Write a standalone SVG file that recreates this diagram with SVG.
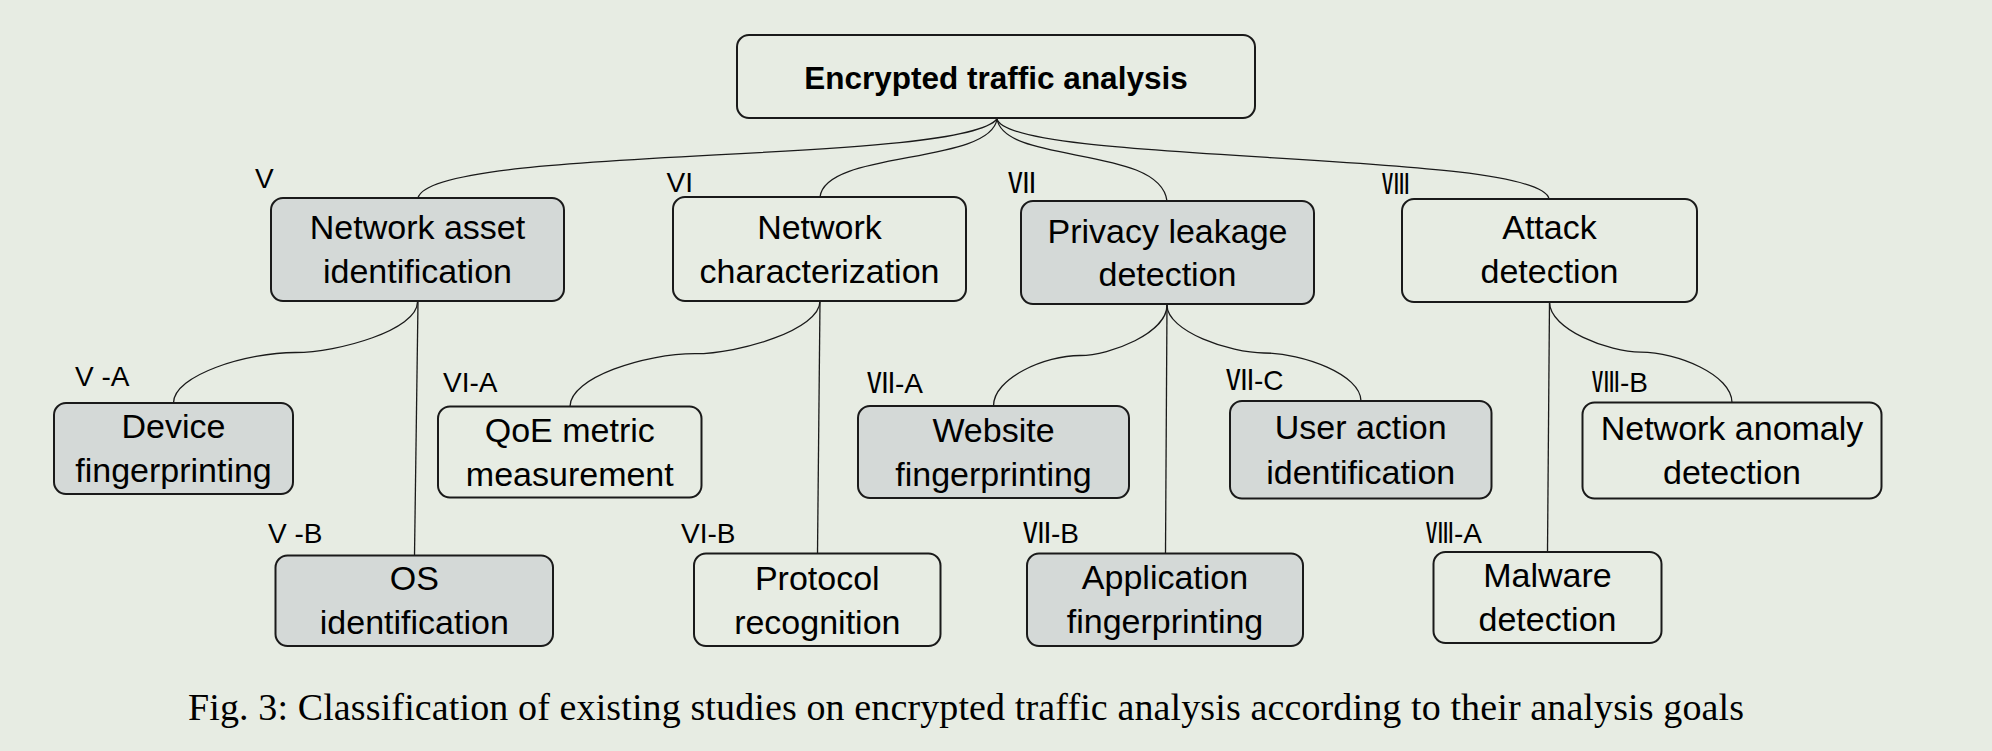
<svg xmlns="http://www.w3.org/2000/svg" width="1992" height="751" viewBox="0 0 1992 751">
<style>
.bg{fill:#E7ECE3}
.box{stroke:#1a1a1a;stroke-width:2}
.g{fill:#D4D9D7}
.w{fill:#E7ECE3}
.t{font-family:"Liberation Sans",Arial,sans-serif;font-size:34px;fill:#000;text-anchor:middle}
.tb{font-family:"Liberation Sans",Arial,sans-serif;font-size:31.5px;font-weight:bold;fill:#000;text-anchor:middle}
.lb{font-family:"Liberation Sans",Arial,sans-serif;font-size:28px;fill:#000}
.rn{font-family:"Noto Sans CJK SC","Noto Sans CJK JP",sans-serif}
.c{fill:none;stroke:#1a1a1a;stroke-width:1.3}
.cap{font-family:"Liberation Serif","Times New Roman",serif;font-size:38px;fill:#000}
</style>
<rect class="bg" x="0" y="0" width="1992" height="751"/>
<g id="connectors">
<path class="c" d="M997,119 C960,165 430,145 418,198"/>
<path class="c" d="M997,119 C990,165 825,150 820,197"/>
<path class="c" d="M997,119 C1005,165 1160,145 1167,201"/>
<path class="c" d="M997,119 C1010,165 1540,150 1549,199"/>
<path class="c" d="M417.5,302 C417.5,330 338,352.5 295.5,352.5 C247,352.5 173.5,375 173.5,403"/>
<path class="c" d="M418,302 L414.5,555.5"/>
<path class="c" d="M820,301 C820,330 739,353.7 695,353.7 C645,353.7 570,377.5 570,406.5"/>
<path class="c" d="M820,301 L817.5,553.5"/>
<path class="c" d="M1167,305 C1167,333 1110.5,355.5 1080,355.5 C1045,355.5 993.5,378 993.5,406"/>
<path class="c" d="M1167,305 L1165.5,553.5"/>
<path class="c" d="M1167,305 C1167,331.4 1230,353 1264,353 C1302.8,353 1361,374.6 1361,401"/>
<path class="c" d="M1549.5,302 L1547.5,552"/>
<path class="c" d="M1549.5,302 C1549.5,329.6 1608.8,352.2 1640.7,352.2 C1677.3,352.2 1732,374.9 1732,402.5"/>
</g>
<g id="root">
<rect class="box w" x="737" y="35" width="518" height="83" rx="12"/>
<text class="tb" x="996" y="89">Encrypted traffic analysis</text>
</g>
<g id="n1">
<rect class="box g" x="271" y="198" width="293" height="103" rx="12"/>
<text class="t" x="417.5" y="239">Network asset</text>
<text class="t" x="417.5" y="283">identification</text>
<text class="lb" x="255" y="188">V</text>
</g>
<g id="n2">
<rect class="box w" x="673" y="197" width="293" height="104" rx="12"/>
<text class="t" x="819.5" y="239">Network</text>
<text class="t" x="819.5" y="283">characterization</text>
<text class="lb" x="666.5" y="191.5">VI</text>
</g>
<g id="n3">
<rect class="box g" x="1021" y="201" width="293" height="103" rx="12"/>
<text class="t" x="1167.5" y="242.5">Privacy leakage</text>
<text class="t" x="1167.5" y="286">detection</text>
<text class="lb rn" x="1008" y="192.5">Ⅶ</text>
</g>
<g id="n4">
<rect class="box w" x="1402" y="199" width="295" height="103" rx="12"/>
<text class="t" x="1549.5" y="239">Attack</text>
<text class="t" x="1549.5" y="283">detection</text>
<text class="lb rn" x="1382" y="194">Ⅷ</text>
</g>
<g id="n1a">
<rect class="box g" x="54" y="403" width="239" height="91" rx="12"/>
<text class="t" x="173.5" y="438">Device</text>
<text class="t" x="173.5" y="482">fingerprinting</text>
<text class="lb" x="75" y="386">V -A</text>
</g>
<g id="n1b">
<rect class="box g" x="275.5" y="555.5" width="277.5" height="90.5" rx="12"/>
<text class="t" x="414.3" y="590">OS</text>
<text class="t" x="414.3" y="634">identification</text>
<text class="lb" x="268" y="543">V -B</text>
</g>
<g id="n2a">
<rect class="box w" x="438" y="406.5" width="263.5" height="91" rx="12"/>
<text class="t" x="569.8" y="441.5">QoE metric</text>
<text class="t" x="569.8" y="486">measurement</text>
<text class="lb" x="443" y="391.5">VI-A</text>
</g>
<g id="n2b">
<rect class="box w" x="694" y="553.5" width="246.5" height="92.5" rx="12"/>
<text class="t" x="817.3" y="589.5">Protocol</text>
<text class="t" x="817.3" y="633.5">recognition</text>
<text class="lb" x="681" y="543">VI-B</text>
</g>
<g id="n3a">
<rect class="box g" x="858" y="406" width="271" height="92" rx="12"/>
<text class="t" x="993.5" y="441.5">Website</text>
<text class="t" x="993.5" y="486">fingerprinting</text>
<text class="lb" x="867" y="392.5"><tspan class="rn">Ⅶ</tspan>-A</text>
</g>
<g id="n3b">
<rect class="box g" x="1027" y="553.5" width="276" height="92.5" rx="12"/>
<text class="t" x="1165" y="588.5">Application</text>
<text class="t" x="1165" y="633">fingerprinting</text>
<text class="lb" x="1023" y="543"><tspan class="rn">Ⅶ</tspan>-B</text>
</g>
<g id="n3c">
<rect class="box g" x="1230" y="401" width="261.5" height="97.5" rx="12"/>
<text class="t" x="1360.7" y="439">User action</text>
<text class="t" x="1360.7" y="483.5">identification</text>
<text class="lb" x="1226" y="390"><tspan class="rn">Ⅶ</tspan>-C</text>
</g>
<g id="n4a">
<rect class="box w" x="1433.5" y="552" width="228" height="91" rx="12"/>
<text class="t" x="1547.5" y="586.5">Malware</text>
<text class="t" x="1547.5" y="630.5">detection</text>
<text class="lb" x="1426" y="543"><tspan class="rn">Ⅷ</tspan>-A</text>
</g>
<g id="n4b">
<rect class="box w" x="1582.5" y="402.5" width="299" height="96" rx="12"/>
<text class="t" x="1732" y="440">Network anomaly</text>
<text class="t" x="1732" y="484">detection</text>
<text class="lb" x="1592" y="391.5"><tspan class="rn">Ⅷ</tspan>-B</text>
</g>
<text id="caption" class="cap" x="188" y="720" textLength="1556" lengthAdjust="spacing">Fig. 3: Classification of existing studies on encrypted traffic analysis according to their analysis goals</text>
</svg>
